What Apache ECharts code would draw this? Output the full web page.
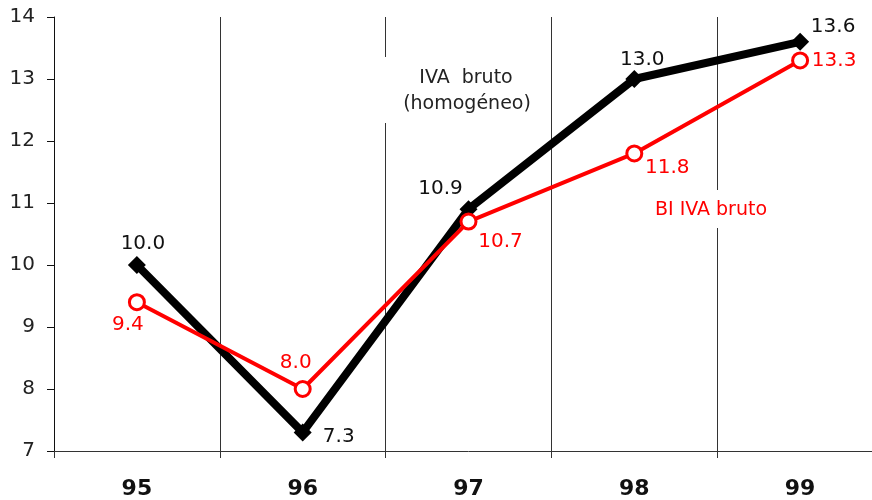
<!DOCTYPE html>
<html><head><meta charset="utf-8">
<script src="https://cdn.jsdelivr.net/npm/echarts@6/dist/echarts.min.js"></script>
<style>html,body{margin:0;padding:0;background:#fff;overflow:hidden;width:872px;height:500px}#c{width:884px;height:500px}</style>
</head><body><div id="c"></div>
<script>
const categories = ['95','96','97','98','99'];
const ivaBruto = [10.0, 7.3, 10.9, 13.0, 13.6];
const biIvaBruto = [9.4, 8.0, 10.7, 11.8, 13.3];
const yTicks = [7, 8, 9, 10, 11, 12, 13, 14];

const FONT = 'DejaVu Sans, Verdana, sans-serif';
const blackOffsets = [[6,-21],[36,4],[-28,-20],[8,-19],[33,-15]];
const redOffsets = [[-9,23],[-7,-26],[32,20],[33,14],[34,0]];

function withLabels(vals, offs, color){
  return vals.map((v,i)=>({value:v,label:{show:true,position:'inside',offset:offs[i],
    formatter:v.toFixed(1),color:color,fontSize:20,fontFamily:FONT,align:'center',verticalAlign:'middle'}}));
}

const chart = echarts.init(document.getElementById('c'));
chart.setOption({
  animation:false,
  backgroundColor:'#fff',
  grid:{left:54,top:17,bottom:45,right:1,containLabel:false},
  xAxis:{type:'category',data:categories,boundaryGap:true,
    axisLine:{lineStyle:{color:'#333',width:1}},
    axisTick:{show:true,length:7,lineStyle:{color:'#333'}},
    splitLine:{show:true,lineStyle:{color:'#333',width:1}},
    axisLabel:{fontSize:22,fontWeight:'bold',color:'#111',fontFamily:FONT,margin:27}},
  yAxis:{type:'value',min:yTicks[0],max:yTicks[yTicks.length-1],interval:1,
    axisLine:{show:true,lineStyle:{color:'#111',width:1}},
    axisTick:{show:true,length:7,lineStyle:{color:'#111'}},
    splitLine:{show:false},
    axisLabel:{fontSize:20,color:'#222',fontFamily:FONT,margin:19}},
  graphic:[
    {type:'rect',shape:{x:383,y:57,width:165,height:66},style:{fill:'#fff'},z:50},
    {type:'text',style:{x:466,y:78,text:'IVA  bruto',fill:'#222',font:'19px '+FONT,textAlign:'center',textVerticalAlign:'middle'},z:51},
    {type:'text',style:{x:467,y:104,text:'(homogéneo)',fill:'#222',font:'19px '+FONT,textAlign:'center',textVerticalAlign:'middle'},z:51},
    {type:'rect',shape:{x:640,y:190,width:143,height:38},style:{fill:'#fff'},z:50},
    {type:'text',style:{x:711,y:210,text:'BI IVA bruto',fill:'#ff0000',font:'19px '+FONT,textAlign:'center',textVerticalAlign:'middle'},z:51}
  ],
  series:[
    {type:'line',data:withLabels(ivaBruto,blackOffsets,'#111'),symbol:'diamond',symbolSize:18,
      lineStyle:{color:'#000',width:8},itemStyle:{color:'#000'},z:3},
    {type:'line',data:withLabels(biIvaBruto,redOffsets,'#ff0000'),symbol:'circle',symbolSize:15,
      lineStyle:{color:'#ff0000',width:4},itemStyle:{color:'#fff',borderColor:'#ff0000',borderWidth:3},z:4}
  ]
});
</script></body></html>
